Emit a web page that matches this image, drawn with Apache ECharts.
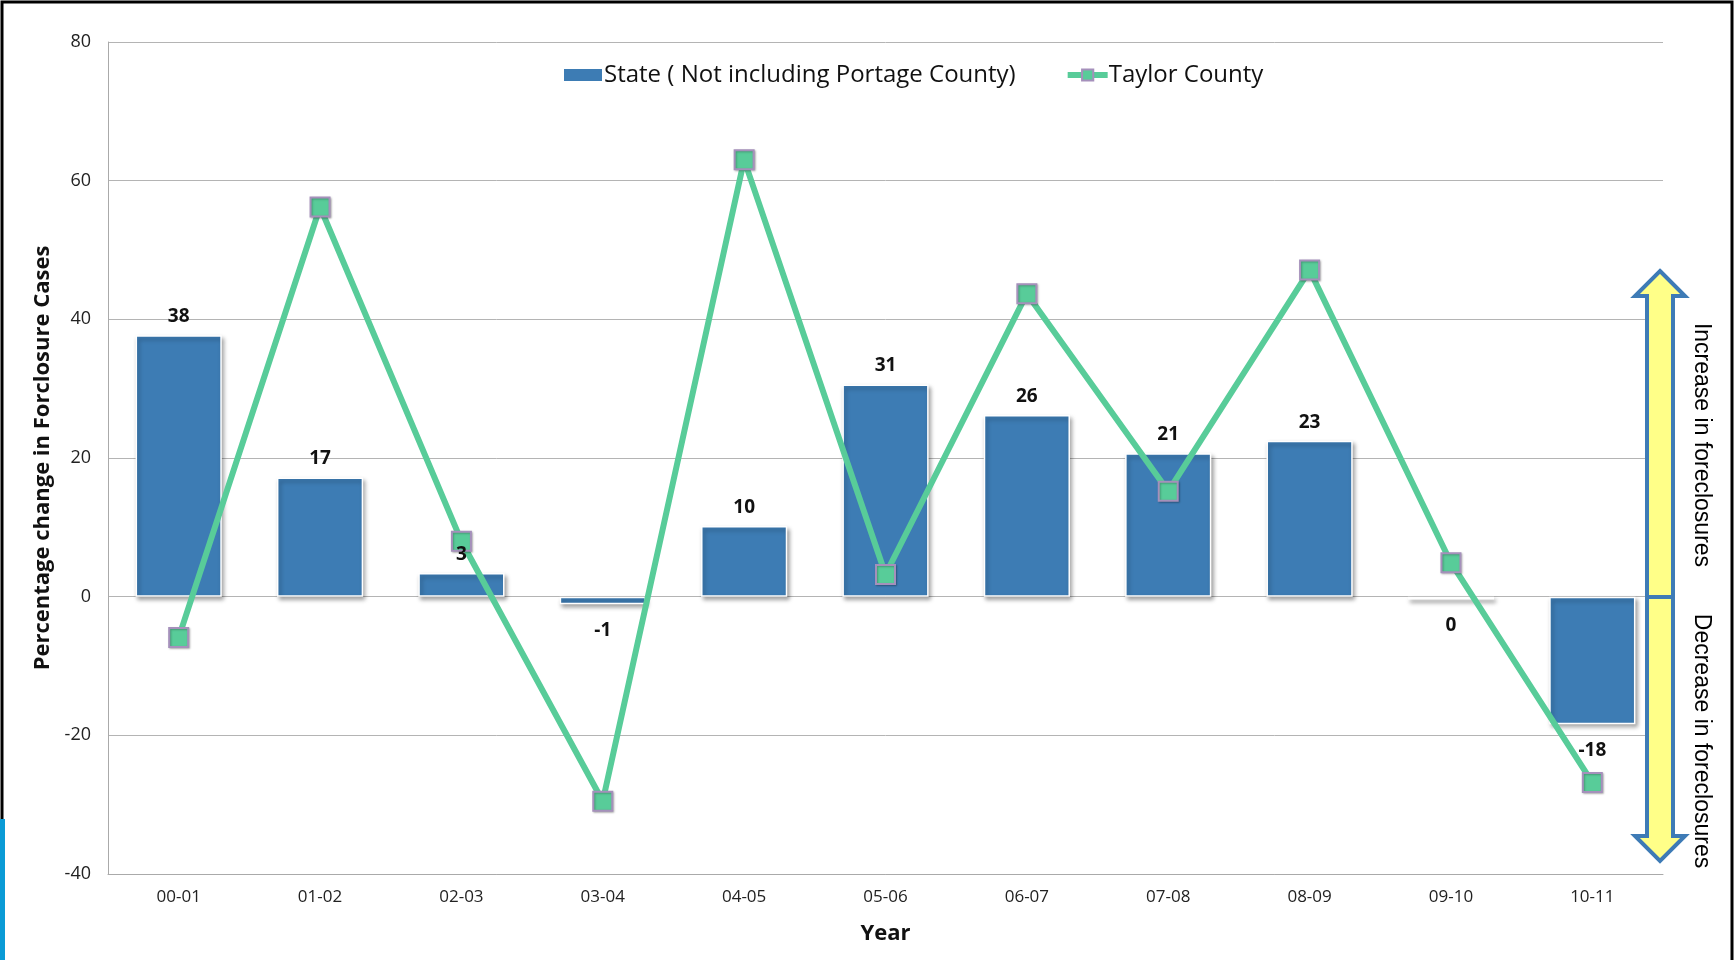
<!DOCTYPE html>
<html>
<head>
<meta charset="utf-8">
<script src="https://cdn.jsdelivr.net/npm/echarts@6/dist/echarts.min.js"></script>
<style>
html,body{margin:0;padding:0;background:#fff;}
#chart{width:1735px;height:960px;}
</style>
</head>
<body>
<div id="chart"></div>
<script>
const categories = ['00-01','01-02','02-03','03-04','04-05','05-06','06-07','07-08','08-09','09-10','10-11'];
const stateValues = [37.7, 17.2, 3.4, -1.1, 10.2, 30.6, 26.2, 20.7, 22.5, -0.4, -18.4];
const taylorValues = [-5.9, 56.2, 8.0, -29.5, 63.0, 3.2, 43.7, 15.2, 47.1, 4.9, -26.8];
const yTicks = {min: -40, max: 80, interval: 20};
const seriesNames = ['State ( Not including Portage County)', 'Taylor County'];
const yAxisTitle = 'Percentage change in Forclosure Cases';
const xAxisTitle = 'Year';
const arrowTexts = ['Increase in foreclosures', 'Decrease in foreclosures'];

const FONT = '"Open Sans", Lato, sans-serif';
const BAR = '#3d7cb4';
const GREEN = '#58cc99';

const chart = echarts.init(document.getElementById('chart'));

const labelData = stateValues.map(v => ({
  value: v,
  label: v < 0 ? {position: 'bottom', distance: 17} : {position: 'top', distance: 9}
}));

// arrow geometry (annotation)
const arrX = 1660, arrTop = 271, arrBot = 861, arrMid = 597;
const shaftHalf = 13, headHalf = 25, headH = 25;
const arrowPts = [
  [arrX, arrTop], [arrX + headHalf, arrTop + headH], [arrX + shaftHalf, arrTop + headH],
  [arrX + shaftHalf, arrBot - headH], [arrX + headHalf, arrBot - headH], [arrX, arrBot],
  [arrX - headHalf, arrBot - headH], [arrX - shaftHalf, arrBot - headH],
  [arrX - shaftHalf, arrTop + headH], [arrX - headHalf, arrTop + headH]
];

chart.setOption({
  animation: false,
  backgroundColor: '#fff',
  textStyle: {fontFamily: FONT},
  grid: {left: 108, right: 72, top: 42, bottom: 86, containLabel: false},
  legend: {
    top: 58,
    left: 557,
    itemWidth: 40,
    itemHeight: 14,
    itemGap: 49,
    textStyle: {fontSize: 24, color: '#111', fontFamily: FONT, padding: [0, 0, 0, -4]},
    data: [
      {name: seriesNames[0], icon: 'rect'},
      {name: seriesNames[1], lineStyle: {width: 6}}
    ]
  },
  xAxis: {
    type: 'category',
    data: categories,
    axisLine: {onZero: false, lineStyle: {color: '#aaa', width: 1}},
    axisTick: {show: false},
    axisLabel: {fontSize: 17, color: '#222', margin: 15},
    name: xAxisTitle,
    nameLocation: 'middle',
    nameGap: 49,
    nameTextStyle: {fontSize: 22, fontWeight: 'bold', color: '#111'}
  },
  yAxis: {
    type: 'value',
    min: yTicks.min,
    max: yTicks.max,
    interval: yTicks.interval,
    axisLine: {show: true, lineStyle: {color: '#aaa', width: 1}},
    axisTick: {show: false},
    axisLabel: {fontSize: 18, color: '#222', margin: 17},
    splitLine: {lineStyle: {color: '#b4b4b4', width: 1}},
    name: yAxisTitle,
    nameLocation: 'middle',
    nameGap: 54,
    nameTextStyle: {fontSize: 22, fontWeight: 'bold', color: '#111'}
  },
  series: [
    {
      name: seriesNames[0],
      type: 'bar',
      data: stateValues,
      barWidth: '61%',
      barGap: '-100%',
      itemStyle: {
        color: BAR,
        borderColor: '#fff',
        borderWidth: 1.5,
        shadowColor: 'rgba(0,0,0,0.35)',
        shadowBlur: 4,
        shadowOffsetX: 2,
        shadowOffsetY: 3
      },
      z: 2
    },
    {
      name: seriesNames[1],
      type: 'line',
      data: taylorValues,
      symbol: 'rect',
      symbolSize: 19,
      lineStyle: {color: GREEN, width: 6},
      itemStyle: {
        color: GREEN,
        borderColor: '#a590bb',
        borderWidth: 2,
        shadowColor: 'rgba(0,0,0,0.25)',
        shadowBlur: 2,
        shadowOffsetX: 1,
        shadowOffsetY: 1
      },
      z: 3
    },
    {
      name: 'stateLabels',
      type: 'bar',
      data: labelData,
      barWidth: '61%',
      barGap: '-100%',
      itemStyle: {color: 'rgba(0,0,0,0)'},
      label: {
        show: true,
        fontSize: 19,
        fontWeight: 'bold',
        color: '#111',
        formatter: p => String(Math.round(p.value))
      },
      silent: true,
      z: 5
    }
  ],
  graphic: [
    {type: 'rect', shape: {x: 2, y: 2, width: 1730, height: 1000}, style: {fill: 'none', stroke: '#000', lineWidth: 3}, z: 100},
    {type: 'rect', shape: {x: 0, y: 819, width: 5, height: 141}, style: {fill: '#0a9bd6'}, z: 101},
    {type: 'polygon', shape: {points: arrowPts}, style: {fill: '#ffff88', stroke: '#3e7bb6', lineWidth: 4}, z: 50},
    {type: 'line', shape: {x1: arrX - shaftHalf, y1: arrMid, x2: arrX + shaftHalf, y2: arrMid}, style: {stroke: '#3e7bb6', lineWidth: 4}, z: 51},
    {type: 'text', x: 1701, y: 445, rotation: -Math.PI / 2,
      style: {text: arrowTexts[0], fontSize: 23, fontFamily: '"Liberation Sans", Arial, sans-serif', fill: '#000', align: 'center', verticalAlign: 'middle'}, z: 52},
    {type: 'text', x: 1701, y: 741, rotation: -Math.PI / 2,
      style: {text: arrowTexts[1], fontSize: 23, fontFamily: '"Liberation Sans", Arial, sans-serif', fill: '#000', align: 'center', verticalAlign: 'middle'}, z: 52}
  ]
});
</script>
</body>
</html>
